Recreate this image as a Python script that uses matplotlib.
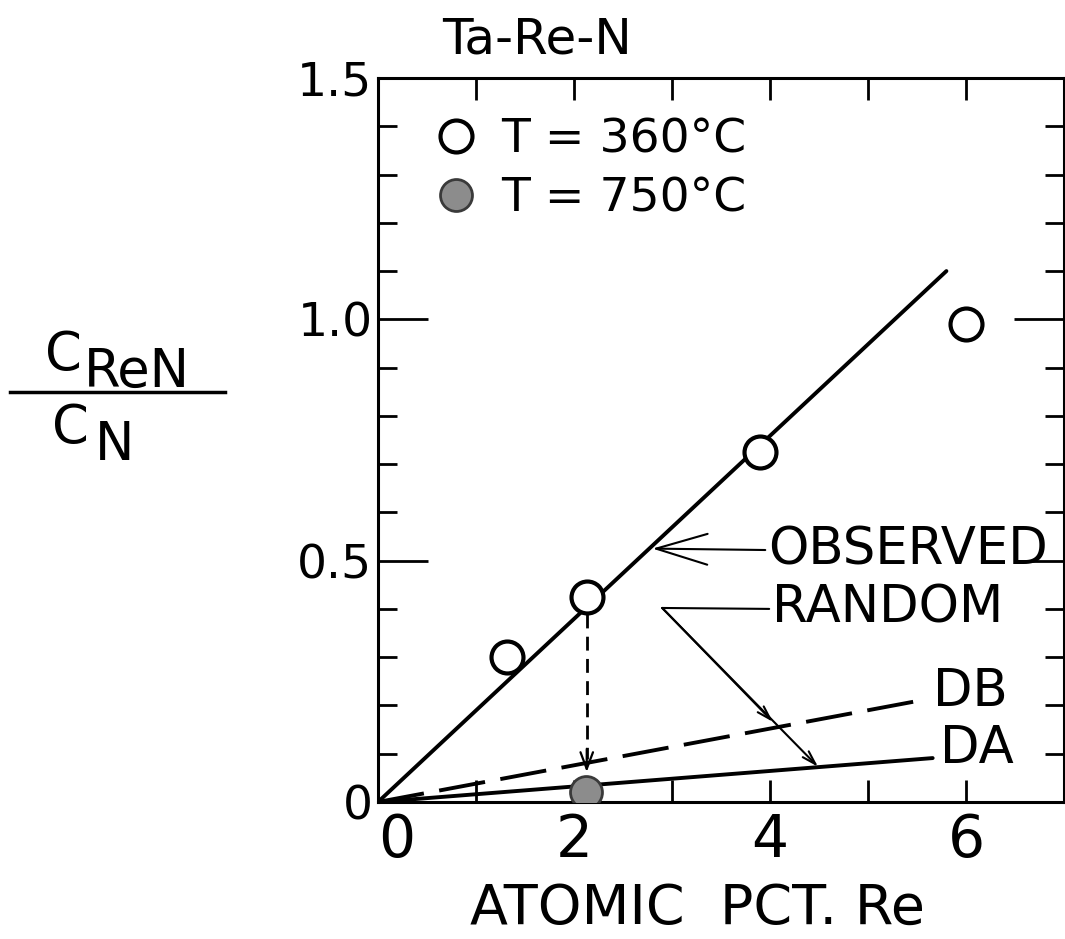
import matplotlib.pyplot as plt
from matplotlib.lines import Line2D
from matplotlib.ticker import MultipleLocator

# measured points
x_360 = [1.32, 2.13, 3.9, 6.0]
y_360 = [0.30, 0.425, 0.725, 0.99]
x_750 = [2.12]
y_750 = [0.02]

# fitted / calculated lines
obs_x = [0.0, 5.8]
obs_y = [0.0, 1.10]
db_x = [0.0, 5.55]
db_y = [0.0, 0.211]
da_x = [0.0, 5.66]
da_y = [0.0, 0.091]

x_ticks = [0, 1, 2, 3, 4, 5, 6, 7]
x_labels = ['0', '', '2', '', '4', '', '6', '']
y_ticks = [0, 0.5, 1.0, 1.5]
y_labels = ['0', '0.5', '1.0', '1.5']

W, H = 1065, 939
fig = plt.figure(figsize=(W / 100, H / 100), dpi=100)
ax = fig.add_axes([378 / W, 1 - 802 / H, 686 / W, 724 / H])

def fx(px):
    return px / W

def fy(py):
    return 1 - py / H

k = 'black'
ax.plot(obs_x, obs_y, color=k, lw=2.8, solid_capstyle='round')
ax.plot(db_x, db_y, color=k, lw=2.8, dashes=(12, 4))
ax.plot(da_x, da_y, color=k, lw=2.8, solid_capstyle='round')

ax.plot(x_360, y_360, 'o', ms=23, mfc='white', mec=k, mew=3, zorder=5,
        label='T = 360°C')
ax.plot(x_750, y_750, 'o', ms=23, mfc='#8c8c8c', mec='#3a3a3a', mew=2, zorder=5,
        label='T = 750°C')

# dashed drop from 360 to 750 point
ax.plot([2.13, 2.13], [0.39, 0.09], color=k, lw=2, dashes=(5, 3))
ax.annotate('', xy=(2.13, 0.062), xytext=(2.13, 0.11),
            arrowprops=dict(arrowstyle='->,head_length=1.2,head_width=0.45',
                            lw=1.6, color=k, shrinkA=0, shrinkB=0))

arrow = dict(arrowstyle='->,head_length=1.0,head_width=0.3', lw=1.5,
             color=k, shrinkA=0, shrinkB=0)
ax.annotate('OBSERVED', xy=(2.8, 0.525), xytext=(3.98, 0.522),
            fontsize=37, va='center', ha='left',
            arrowprops=dict(arrow, relpos=(0, 0.5)))
corner = (2.90, 0.402)
ax.annotate('RANDOM', xy=corner, xytext=(4.02, 0.40),
            fontsize=37, va='center', ha='left',
            arrowprops=dict(arrowstyle='-', lw=1.5, color=k,
                            shrinkA=0, shrinkB=0, relpos=(0, 0.5)))
ax.annotate('', xy=(4.03, 0.166), xytext=corner, arrowprops=arrow)
ax.annotate('', xy=(4.49, 0.073), xytext=corner, arrowprops=arrow)
ax.text(5.66, 0.228, 'DB', fontsize=37, va='center', ha='left')
ax.text(5.73, 0.11, 'DA', fontsize=37, va='center', ha='left')

ax.set_xlim(0, 7)
ax.set_ylim(0, 1.5)
ax.set_xticks(x_ticks, x_labels)
ax.set_yticks(y_ticks, y_labels)
ax.yaxis.set_minor_locator(MultipleLocator(0.1))
ax.tick_params(axis='x', which='both', direction='in', top=True,
               length=16, width=2, labelsize=42, pad=7)
ax.tick_params(axis='y', which='major', direction='in', right=True,
               length=36, width=2, labelsize=34, pad=4)
ax.tick_params(axis='y', which='minor', direction='in', right=True,
               length=14, width=2)
for s in ax.spines.values():
    s.set_linewidth(2.2)
# the x "0" sits a little right of the corner
ax.get_xticklabels()[0].set_horizontalalignment('left')

ax.set_xlabel('ATOMIC  PCT. Re', fontsize=40)
ax.xaxis.set_label_coords((697 - 378) / 686, -0.11)

fig.text(fx(537), fy(40), 'Ta-Re-N', fontsize=36, ha='center', va='center')

# y label as a fraction
fig.text(fx(45), fy(355), 'C', fontsize=38, ha='left', va='center')
fig.text(fx(84), fy(372), 'ReN', fontsize=38, ha='left', va='center')
fig.add_artist(Line2D([fx(10), fx(225)], [fy(392), fy(392)], color=k, lw=2.5))
fig.text(fx(52), fy(428), 'C', fontsize=38, ha='left', va='center')
fig.text(fx(95), fy(445), 'N', fontsize=38, ha='left', va='center')

ax.legend(loc='upper left', bbox_to_anchor=(0.08, 0.945), frameon=False,
          fontsize=34, handlelength=1.0, handletextpad=0.45, labelspacing=0.28,
          borderpad=0, borderaxespad=0)

fig.savefig('out.png', dpi=100)
